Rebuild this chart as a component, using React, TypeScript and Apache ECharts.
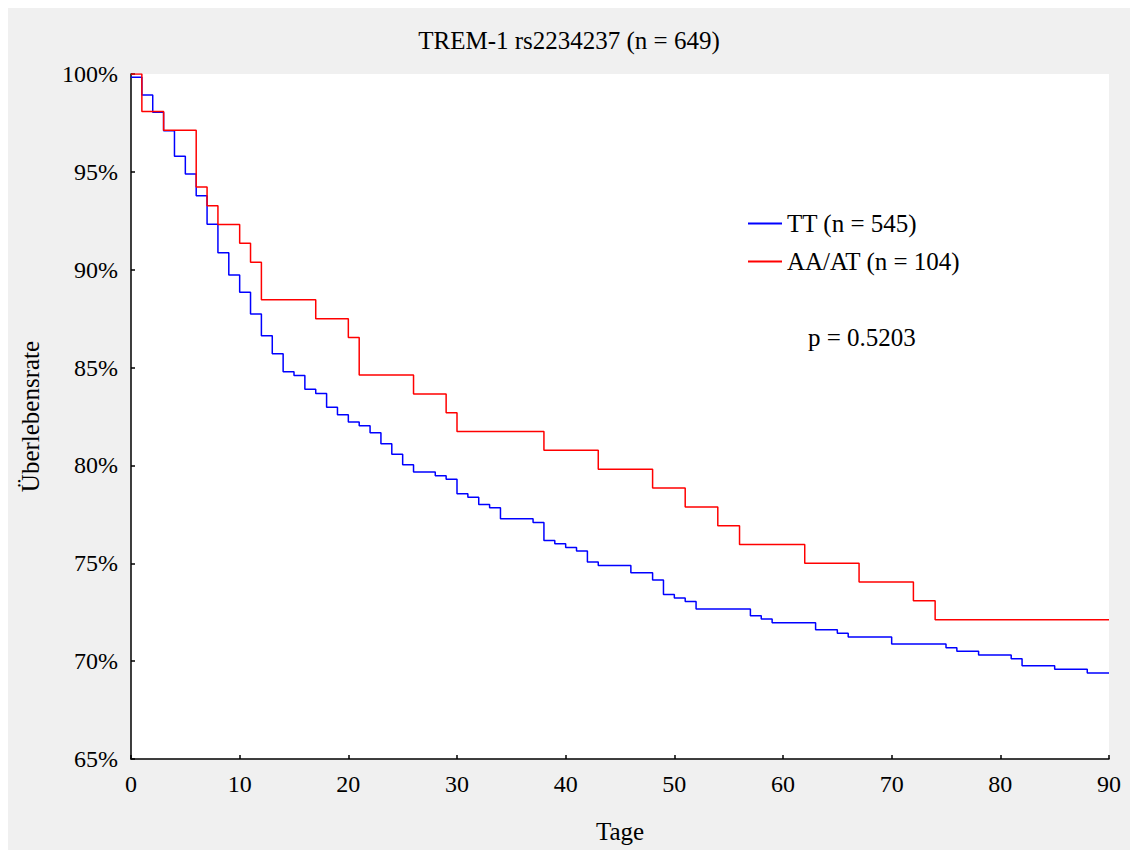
import React, { useEffect, useRef } from "react";
import * as echarts from "echarts";

const titleText = "TREM-1 rs2234237 (n = 649)";
const seriesNames = ["TT (n = 545)", "AA/AT (n = 104)"];
const pValueText = "p = 0.5203";

// TT (blue) Kaplan-Meier steps: day, survival %
const ttDays = [0, 1, 2, 3, 4, 5, 6, 7, 8, 9, 10, 11, 12, 13, 14, 15, 16, 17, 18, 19, 20, 21, 22, 23, 24, 25, 26, 28, 29, 30, 31, 32, 33, 34, 37, 38, 39, 40, 41, 42, 43, 46, 48, 49, 50, 51, 52, 57, 58, 59, 63, 65, 66, 70, 75, 76, 78, 81, 82, 85, 88, 90];
const ttSurv = [99.83, 98.93, 98.04, 97.1, 95.8, 94.89, 93.78, 92.32, 90.87, 89.73, 88.85, 87.74, 86.63, 85.71, 84.79, 84.6, 83.89, 83.68, 82.97, 82.59, 82.22, 82.03, 81.67, 81.11, 80.57, 80.04, 79.66, 79.47, 79.29, 78.55, 78.37, 78.0, 77.84, 77.28, 77.09, 76.17, 76.0, 75.81, 75.63, 75.06, 74.89, 74.52, 74.14, 73.41, 73.22, 73.05, 72.67, 72.32, 72.15, 71.96, 71.6, 71.42, 71.23, 70.87, 70.69, 70.5, 70.31, 70.12, 69.77, 69.58, 69.39, 69.39];

// AA/AT (red)
const aaDays = [0, 1, 3, 6, 7, 8, 10, 11, 12, 17, 20, 21, 26, 29, 30, 38, 43, 48, 51, 54, 56, 62, 67, 72, 74, 90];
const aaSurv = [100, 98.08, 97.12, 94.23, 93.27, 92.31, 91.35, 90.38, 88.46, 87.5, 86.54, 84.62, 83.65, 82.69, 81.73, 80.77, 79.81, 78.85, 77.88, 76.92, 75.96, 75.0, 74.04, 73.08, 72.12, 72.12];

const xMin = 0;
const xMax = 90;
const xInterval = 10;
const yMin = 65;
const yMax = 100;
const yInterval = 5;

const FONT = "Liberation Serif";

export default function App() {
  const ref = useRef<HTMLDivElement>(null);
  useEffect(() => {
    if (!ref.current) return;
    const chart = echarts.init(ref.current, null, { renderer: "svg" });
    const tt = ttDays.map((d, i) => [d, ttSurv[i]]);
    const aa = aaDays.map((d, i) => [d, aaSurv[i]]);
    chart.setOption({
      animation: false,
      backgroundColor: "#f0f0f0",
      textStyle: { fontFamily: FONT, color: "#000" },
      title: {
        text: titleText,
        left: "center",
        top: 15,
        textStyle: { fontFamily: FONT, fontSize: 25, fontWeight: "normal", color: "#000" },
      },
      grid: {
        left: 123,
        top: 66,
        right: 21,
        bottom: 91,
        show: true,
        backgroundColor: "#ffffff",
        borderWidth: 0,
      },
      legend: {
        orient: "vertical",
        left: 740,
        top: 203,
        padding: 0,
        itemWidth: 34,
        itemHeight: 2,
        itemGap: 13,
        icon: "rect",
        data: seriesNames,
        textStyle: { fontFamily: FONT, fontSize: 25, color: "#000" },
      },
      xAxis: {
        type: "value",
        min: xMin,
        max: xMax,
        interval: xInterval,
        name: "Tage",
        nameLocation: "middle",
        nameGap: 60,
        nameTextStyle: { fontFamily: FONT, fontSize: 25, color: "#000" },
        axisLine: { show: true, onZero: false, lineStyle: { color: "#000", width: 1.5 } },
        axisTick: { show: true, inside: true, length: 4, lineStyle: { color: "#000", width: 1.5 } },
        axisLabel: { fontFamily: FONT, fontSize: 24, color: "#000", margin: 13 },
        splitLine: { show: false },
      },
      yAxis: {
        type: "value",
        min: yMin,
        max: yMax,
        interval: yInterval,
        name: "Überlebensrate",
        nameLocation: "middle",
        nameGap: 88,
        nameTextStyle: { fontFamily: FONT, fontSize: 25, color: "#000" },
        axisLine: { show: true, onZero: false, lineStyle: { color: "#000", width: 1.5 } },
        axisTick: { show: true, inside: true, length: 4, lineStyle: { color: "#000", width: 1.5 } },
        axisLabel: { fontFamily: FONT, fontSize: 24, color: "#000", margin: 13, formatter: "{value}%" },
        splitLine: { show: false },
      },
      graphic: [
        {
          type: "text",
          left: 800,
          top: 317,
          style: { text: pValueText, font: `25px "${FONT}"`, fill: "#000" },
        },
      ],
      series: [
        {
          name: seriesNames[0],
          type: "line",
          step: "end",
          data: tt,
          showSymbol: false,
          symbol: "none",
          lineStyle: { color: "#0000ff", width: 1.5 },
          itemStyle: { color: "#0000ff" },
        },
        {
          name: seriesNames[1],
          type: "line",
          step: "end",
          data: aa,
          showSymbol: false,
          symbol: "none",
          lineStyle: { color: "#ff0000", width: 1.5 },
          itemStyle: { color: "#ff0000" },
        },
      ],
    });
    return () => chart.dispose();
  }, []);
  return (
    <div
      ref={ref}
      style={{ position: "absolute", left: 8, top: 8, width: 1122, height: 842 }}
    />
  );
}
